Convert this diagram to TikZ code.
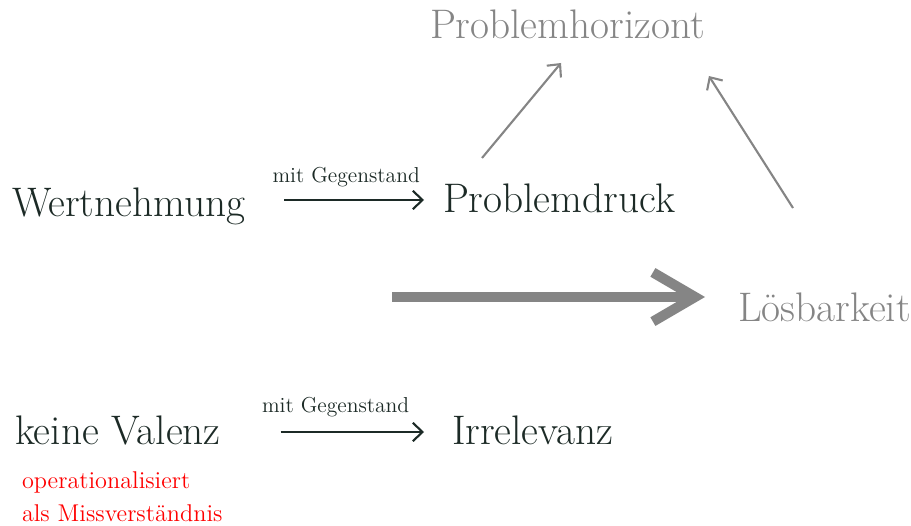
\documentclass[tikz,border=0pt]{standalone}
\usetikzlibrary{arrows.meta}

\definecolor{ink}{HTML}{1C2A26}
\definecolor{fade}{HTML}{858585}

\tikzset{
  term/.style={inner sep=0pt, outer sep=0pt, text=ink,
               font=\fontsize{23.5}{28}\selectfont},
  faded/.style={term, text=fade},
  note/.style={inner sep=0pt, outer sep=0pt, text=ink,
               font=\fontsize{12.3}{14}\selectfont},
  remark/.style={inner sep=0pt, outer sep=0pt, text=red, align=left,
                 font=\fontsize{13.8}{18.7}\selectfont},
  link/.style={draw=ink, line width=1.2pt,
               -{Straight Barb[length=5.5pt,width=10.5pt]}},
  rise/.style={draw=fade, line width=1.2pt,
               -{Straight Barb[length=5.5pt,width=10.5pt]}},
  push/.style={draw=fade, line width=5.7pt,
               -{Straight Barb[length=24pt,width=28pt]}},
}

\begin{document}
\begin{tikzpicture}[x=0.02cm, y=-0.02cm]
\useasboundingbox (0,0) rectangle (911,526);

% upper row
\node[term, anchor=base west] (wert) at (12,217) {Wertnehmung};
\node[term, anchor=base west] (druck) at (443,213) {Problemdruck};
\node[faded, anchor=base west] (horizont) at (430,39) {Problemhorizont};
\node[faded, anchor=base west] (loes) at (738,321) {Lösbarkeit};

% lower row
\node[term, anchor=base west] (valenz) at (15,444) {keine Valenz};
\node[term, anchor=base west] (irrel) at (452,444) {Irrelevanz};
\node[remark, anchor=north west] (opnote) at (22,472)
     {operationalisiert\\als Missverständnis};

\draw[link] ([shift={(39,-17)}]wert.base east) --
     node[note, above=7.5pt, xshift=-4.5] (gegen1) {mit Gegenstand}
     ([shift={(-19,-13)}]druck.base west);
\draw[link] ([shift={(60,-12)}]valenz.base east) --
     node[note, above=8.5pt, xshift=-9.5] (gegen2) {mit Gegenstand}
     ([shift={(-28,-12)}]irrel.base west);

\draw[rise] ([shift={(39,-55)}]druck.base west) --
     ([shift={(131,24)}]horizont.base west);
\draw[rise] ([shift={(55,-113)}]loes.base west) --
     ([shift={(4,37)}]horizont.base east);

\coordinate (pushstart) at (392,297);
\draw[push] (pushstart) -- ([shift={(-33,-24)}]loes.base west);
\end{tikzpicture}
\end{document}
